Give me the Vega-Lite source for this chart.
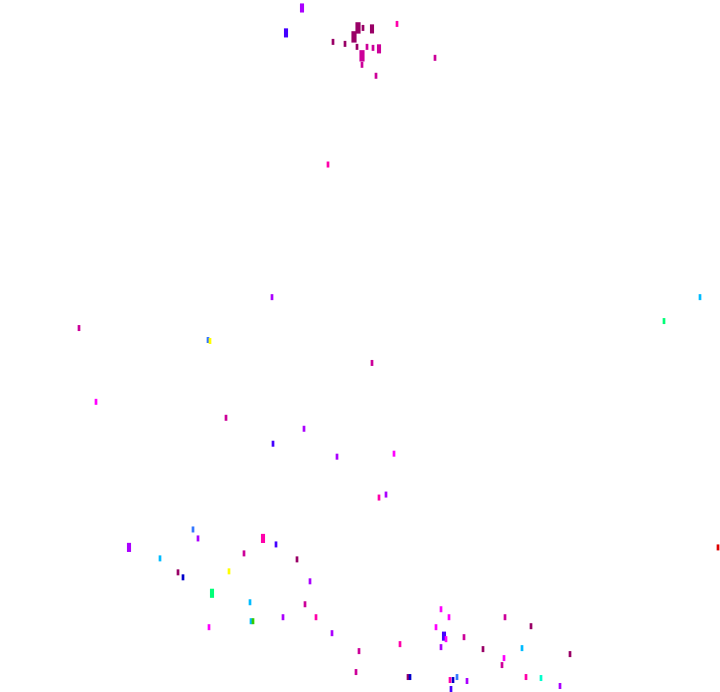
{
  "$schema": "https://vega.github.io/schema/vega-lite/v6.json",
  "width": 720,
  "height": 692,
  "autosize": {"type": "fit", "contains": "padding"},
  "padding": 0,
  "background": "white",
  "config": {"view": {"stroke": null}},
  "data": {
    "values": [
      {"x": 358, "y": 28, "g": "a", "w": 3},
      {"x": 354, "y": 37, "g": "a", "w": 3},
      {"x": 363, "y": 28, "g": "a", "w": 1},
      {"x": 372, "y": 29, "g": "a", "w": 2},
      {"x": 333, "y": 42, "g": "a", "w": 1},
      {"x": 345, "y": 44, "g": "a", "w": 1},
      {"x": 357, "y": 47, "g": "a", "w": 1},
      {"x": 367, "y": 47, "g": "b", "w": 1},
      {"x": 373, "y": 48, "g": "b", "w": 1},
      {"x": 379, "y": 49, "g": "b", "w": 2},
      {"x": 362, "y": 56, "g": "b", "w": 3},
      {"x": 362, "y": 65, "g": "b", "w": 1},
      {"x": 376, "y": 76, "g": "b", "w": 1},
      {"x": 397, "y": 24, "g": "c", "w": 1},
      {"x": 435, "y": 58, "g": "b", "w": 1},
      {"x": 302, "y": 8, "g": "e", "w": 2},
      {"x": 286, "y": 33, "g": "f", "w": 2},
      {"x": 328, "y": 165, "g": "c", "w": 1},
      {"x": 272, "y": 298, "g": "e", "w": 1},
      {"x": 79, "y": 329, "g": "b", "w": 1},
      {"x": 208, "y": 341, "g": "h", "w": 1},
      {"x": 210, "y": 342, "g": "m", "w": 1},
      {"x": 700, "y": 298, "g": "i", "w": 1},
      {"x": 664, "y": 322, "g": "k", "w": 1},
      {"x": 372, "y": 364, "g": "b", "w": 1},
      {"x": 96, "y": 403, "g": "d", "w": 1},
      {"x": 226, "y": 419, "g": "b", "w": 1},
      {"x": 304, "y": 430, "g": "e", "w": 1},
      {"x": 273, "y": 445, "g": "f", "w": 1},
      {"x": 337, "y": 458, "g": "e", "w": 1},
      {"x": 394, "y": 455, "g": "d", "w": 1},
      {"x": 379, "y": 499, "g": "c", "w": 1},
      {"x": 386, "y": 496, "g": "e", "w": 1},
      {"x": 193, "y": 531, "g": "h", "w": 1},
      {"x": 198, "y": 540, "g": "e", "w": 1},
      {"x": 263, "y": 540, "g": "c", "w": 2},
      {"x": 276, "y": 546, "g": "f", "w": 1},
      {"x": 129, "y": 549, "g": "e", "w": 2},
      {"x": 244, "y": 555, "g": "b", "w": 1},
      {"x": 297, "y": 561, "g": "a", "w": 1},
      {"x": 160, "y": 560, "g": "i", "w": 1},
      {"x": 178, "y": 574, "g": "a", "w": 1},
      {"x": 183, "y": 579, "g": "g", "w": 1},
      {"x": 229, "y": 573, "g": "m", "w": 1},
      {"x": 310, "y": 583, "g": "e", "w": 1},
      {"x": 212, "y": 595, "g": "k", "w": 2},
      {"x": 250, "y": 604, "g": "i", "w": 1},
      {"x": 305, "y": 606, "g": "b", "w": 1},
      {"x": 251, "y": 623, "g": "i", "w": 1},
      {"x": 253, "y": 623, "g": "l", "w": 1},
      {"x": 283, "y": 619, "g": "e", "w": 1},
      {"x": 316, "y": 619, "g": "c", "w": 1},
      {"x": 209, "y": 629, "g": "d", "w": 1},
      {"x": 332, "y": 635, "g": "e", "w": 1},
      {"x": 359, "y": 653, "g": "b", "w": 1},
      {"x": 356, "y": 674, "g": "b", "w": 1},
      {"x": 441, "y": 611, "g": "d", "w": 1},
      {"x": 449, "y": 619, "g": "d", "w": 1},
      {"x": 505, "y": 619, "g": "b", "w": 1},
      {"x": 531, "y": 628, "g": "a", "w": 1},
      {"x": 436, "y": 629, "g": "d", "w": 1},
      {"x": 444, "y": 638, "g": "f", "w": 2},
      {"x": 446, "y": 641, "g": "d", "w": 1},
      {"x": 464, "y": 639, "g": "b", "w": 1},
      {"x": 400, "y": 646, "g": "c", "w": 1},
      {"x": 441, "y": 649, "g": "e", "w": 1},
      {"x": 483, "y": 651, "g": "a", "w": 1},
      {"x": 522, "y": 650, "g": "i", "w": 1},
      {"x": 570, "y": 656, "g": "a", "w": 1},
      {"x": 504, "y": 660, "g": "d", "w": 1},
      {"x": 502, "y": 667, "g": "b", "w": 1},
      {"x": 408, "y": 679, "g": "a", "w": 1},
      {"x": 410, "y": 679, "g": "g", "w": 1},
      {"x": 457, "y": 679, "g": "h", "w": 1},
      {"x": 453, "y": 682, "g": "g", "w": 1},
      {"x": 450, "y": 682, "g": "c", "w": 1},
      {"x": 467, "y": 683, "g": "e", "w": 1},
      {"x": 526, "y": 679, "g": "c", "w": 1},
      {"x": 541, "y": 680, "g": "j", "w": 1},
      {"x": 560, "y": 688, "g": "e", "w": 1},
      {"x": 451, "y": 691, "g": "f", "w": 1},
      {"x": 718, "y": 549, "g": "n", "w": 1}
    ]
  },
  "mark": {
    "type": "point",
    "filled": true,
    "opacity": 1,
    "shape": "M-0.45,-1V1H0.45V-1Z"
  },
  "encoding": {
    "x": {"field": "x", "type": "quantitative", "scale": {"domain": [0, 720], "nice": false, "zero": false}, "axis": null},
    "y": {"field": "y", "type": "quantitative", "scale": {"domain": [0, 692], "nice": false, "zero": false, "reverse": true}, "axis": null},
    "color": {
      "field": "g",
      "type": "nominal",
      "legend": null,
      "scale": {
        "domain": ["a", "b", "c", "d", "e", "f", "g", "h", "i", "j", "k", "l", "m", "n"],
        "range": ["#990066", "#cc0099", "#ff00aa", "#ff00ff", "#aa00ff", "#4400ff", "#0000cc", "#3377ff", "#00bbff", "#00ffcc", "#00ff77", "#33cc00", "#ffff00", "#dd0000"]
      }
    },
    "size": {"field": "w", "type": "quantitative", "legend": null, "scale": {"domain": [1, 3], "range": [36, 130]}}
  }
}
